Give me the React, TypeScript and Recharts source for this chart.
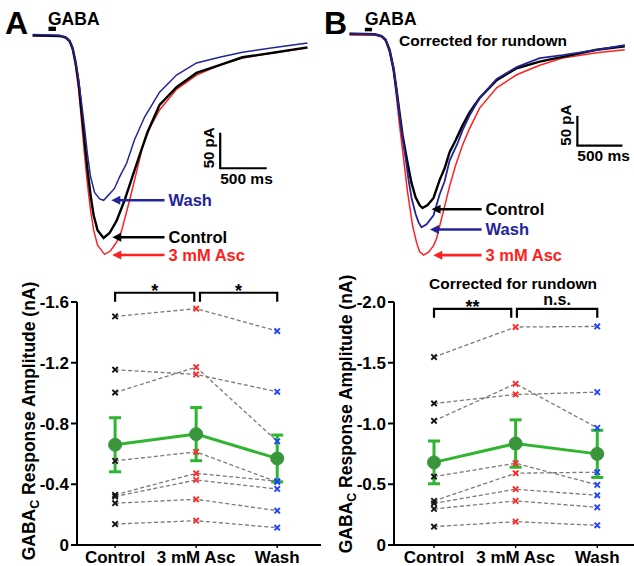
import React from 'react';
import {
  ComposedChart,
  ErrorBar,
  Line,
  LineChart,
  ReferenceArea,
  ReferenceLine,
  XAxis,
  YAxis,
} from 'recharts';

const FONT = '"Liberation Sans", Arial, Helvetica, sans-serif';
const RED = '#ff2020';
const NAVY = '#24249a';
const GREEN = '#2fb52f';
const GREEN_DOT = '#3b963b';
const CROSS_COLORS = ['#151515', '#ff2a2a', '#2244ff'];

const CONDITIONS = ['Control', '3 mM Asc', 'Wash'];

// GABA pulse marker (ms) and its height band (pA)
const GABA_PULSE = [170, 250];
const GABA_MARK = [6, 12];
const SCALE_MS = 500;
const SCALE_PA = 50;

// example currents, [time ms, current pA]
const traceA_control = [[0, 0], [290, -1], [354, -3], [397, -8], [429, -18], [461, -38], [494, -67], [526, -108], [558, -150], [590, -190], [622, -225], [655, -253], [697, -274], [762, -285], [826, -278], [901, -261], [987, -232], [1073, -198], [1148, -169], [1234, -136], [1363, -98], [1545, -73], [1760, -53], [2007, -42], [2253, -31], [2618, -24], [2951, -17]];
const traceA_asc = [[0, -1], [290, -1], [354, -4], [397, -10], [429, -21], [461, -44], [494, -77], [526, -122], [558, -169], [590, -211], [622, -246], [655, -274], [697, -295], [773, -308], [837, -303], [901, -291], [955, -275], [1041, -232], [1116, -192], [1180, -157], [1255, -131], [1363, -105], [1545, -76], [1760, -56], [2007, -42], [2253, -32], [2618, -24], [2951, -18]];
const traceA_wash = [[0, 1], [290, 0], [354, -3], [397, -8], [429, -18], [461, -37], [494, -63], [526, -96], [558, -131], [590, -169], [622, -199], [665, -221], [719, -230], [762, -232], [826, -223], [880, -215], [934, -199], [1009, -180], [1094, -147], [1202, -115], [1363, -80], [1545, -56], [1760, -39], [2007, -31], [2253, -24], [2618, -17], [2951, -11]];

const traceB_control = [[0, 2], [278, 1], [355, -2], [400, -8], [444, -25], [488, -56], [522, -93], [555, -131], [588, -168], [622, -197], [655, -224], [688, -249], [733, -273], [777, -286], [810, -291], [866, -286], [932, -274], [999, -244], [1055, -224], [1110, -197], [1177, -177], [1254, -152], [1332, -130], [1443, -106], [1632, -76], [1854, -56], [2109, -45], [2364, -37], [2742, -25], [3053, -19]];
const traceB_asc = [[0, 0], [278, 0], [355, -3], [400, -10], [444, -29], [488, -62], [522, -106], [555, -152], [599, -207], [644, -264], [699, -320], [744, -349], [777, -364], [821, -370], [877, -365], [932, -354], [966, -342], [1010, -315], [1055, -288], [1110, -254], [1177, -219], [1254, -185], [1332, -157], [1443, -123], [1632, -89], [1854, -67], [2109, -51], [2364, -39], [2742, -30], [3053, -25]];
const traceB_wash = [[0, 2], [278, 1], [355, -2], [400, -8], [444, -25], [488, -56], [522, -93], [555, -135], [588, -173], [622, -207], [655, -244], [688, -274], [733, -301], [766, -315], [799, -323], [855, -318], [932, -303], [999, -268], [1055, -246], [1110, -211], [1199, -182], [1254, -160], [1332, -135], [1443, -106], [1632, -74], [1854, -54], [2109, -39], [2364, -34], [2742, -25], [3053, -17]];

// arrow annotations: tip / tail time (ms), level (pA)
const arrowsA = [
  { label: 'Wash', color: NAVY, tip: 845, tail: 1416, pA: -232 },
  { label: 'Control', color: '#000', tip: 855, tail: 1416, pA: -284 },
  { label: '3 mM Asc', color: RED, tip: 855, tail: 1416, pA: -309 },
];
const arrowsB = [
  { label: 'Control', color: '#000', tip: 910, tail: 1465, pA: -293 },
  { label: 'Wash', color: NAVY, tip: 892, tail: 1465, pA: -327 },
  { label: '3 mM Asc', color: RED, tip: 929, tail: 1465, pA: -370 },
];
const scaleBarA = { t0: 2014, p0: -187 };
const scaleBarB = { t0: 2527, p0: -186 };

// response amplitudes (nA), one value per cell
const ampA_control = [-1.505, -1.154, -1.004, -0.554, -0.33, -0.319, -0.275, -0.138];
const ampA_asc = [-1.556, -1.123, -1.171, -0.613, -0.472, -0.428, -0.301, -0.16];
const ampA_wash = [-1.409, -1.009, -0.683, -0.415, -0.42, -0.369, -0.226, -0.114];
const meanA = [-0.66, -0.73, -0.57];
const semA = [0.178, 0.175, 0.154];
const ticksA = [-1.6, -1.2, -0.8, -0.4, 0];

const ampB_control = [-1.547, -1.165, -1.022, -0.563, -0.363, -0.343, -0.297, -0.151];
const ampB_asc = [-1.794, -1.239, -1.327, -0.673, -0.591, -0.459, -0.363, -0.192];
const ampB_wash = [-1.799, -1.258, -0.964, -0.495, -0.599, -0.409, -0.31, -0.162];
const meanB = [-0.68, -0.835, -0.75];
const semB = [0.176, 0.195, 0.194];
const ticksB = [-2.0, -1.5, -1.0, -0.5, 0];

const bracketsA = [
  { from: 0, to: 0.977, y: -1.661, label: '*' },
  { from: 1.047, to: 2, y: -1.661, label: '*' },
];
const bracketsB = [
  { from: 0, to: 0.946, y: -1.944, label: '**' },
  { from: 1.016, to: 2, y: -1.944, label: 'n.s.' },
];

const toRows = (pts: number[][]) => pts.map(([t, i]) => ({ t, i }));

const arrowShape = (label: string, color: string) => (p: any) => {
  const { x1, y1, x2 } = p;
  return (
    <g>
      <line x1={x1 + 7} y1={y1} x2={x2} y2={y1} stroke={color} strokeWidth={2.6} />
      <polygon points={`${x1},${y1} ${x1 + 9},${y1 - 4.5} ${x1 + 9},${y1 + 4.5}`} fill={color} />
      <text x={x2 + 4} y={y1} dy="0.36em" fill={color} fontSize={16.5} fontWeight={700} fontFamily={FONT}>
        {label}
      </text>
    </g>
  );
};

const hBarShape = (p: any) => (
  <g>
    <line x1={p.x1 - 1} y1={p.y1} x2={p.x2} y2={p.y2} stroke="#000" strokeWidth={2.2} />
    <text x={p.x1} y={p.y1 + 15.5} fontSize={15.5} fontWeight={700} fontFamily={FONT} fill="#000">
      {`${SCALE_MS} ms`}
    </text>
  </g>
);

const vBarShape = (p: any) => (
  <g>
    <line x1={p.x1} y1={p.y1} x2={p.x2} y2={p.y2} stroke="#000" strokeWidth={2.2} />
    <text
      x={p.x1 - 6.5}
      y={p.y1}
      transform={`rotate(-90, ${p.x1 - 6.5}, ${p.y1})`}
      fontSize={15}
      fontWeight={700}
      fontFamily={FONT}
      fill="#000"
    >
      {`${SCALE_PA} pA`}
    </text>
  </g>
);

const bracketShape = (label: string) => (p: any) => {
  const { x1, y1, x2 } = p;
  const stars = label.includes('*');
  return (
    <g>
      <path d={`M${x1},${y1 + 9}V${y1}H${x2}V${y1 + 9}`} fill="none" stroke="#000" strokeWidth={2.2} />
      <text
        x={(x1 + x2) / 2}
        y={stars ? y1 + 4 : y1 - 3.5}
        textAnchor="middle"
        fontSize={stars ? 18 : 16}
        fontWeight={700}
        fontFamily={FONT}
        fill="#000"
      >
        {label}
      </text>
    </g>
  );
};

const crossDot = (id: string) => (p: any) => {
  const { cx, cy, index } = p;
  const s = 2.7;
  if (cx == null || cy == null) return <g key={`${id}-${index}`} />;
  return (
    <path
      key={`${id}-${index}`}
      d={`M${cx - s},${cy - s}L${cx + s},${cy + s}M${cx + s},${cy - s}L${cx - s},${cy + s}`}
      stroke={CROSS_COLORS[index]}
      strokeWidth={1.9}
      fill="none"
    />
  );
};

interface Trace {
  name: string;
  pts: number[][];
  color: string;
  w: number;
}

function TraceChart({ width, height, xDomain, yDomain, traces, arrows, bar }: any) {
  return (
    <LineChart width={width} height={height} margin={{ top: 0, right: 0, bottom: 0, left: 0 }}>
      <XAxis type="number" dataKey="t" domain={xDomain} allowDataOverflow hide />
      <YAxis type="number" domain={yDomain} allowDataOverflow hide />
      <ReferenceArea
        x1={GABA_PULSE[0]}
        x2={GABA_PULSE[1]}
        y1={GABA_MARK[0]}
        y2={GABA_MARK[1]}
        fill="#000"
        fillOpacity={1}
        stroke="none"
        ifOverflow="visible"
      />
      {traces.map((tr: Trace) => (
        <Line
          key={tr.name}
          data={toRows(tr.pts)}
          dataKey="i"
          type="linear"
          stroke={tr.color}
          strokeWidth={tr.w}
          dot={false}
          activeDot={false}
          isAnimationActive={false}
        />
      ))}
      {arrows.map((a: any) => (
        <ReferenceLine
          key={a.label}
          segment={[{ x: a.tip, y: a.pA }, { x: a.tail, y: a.pA }]}
          ifOverflow="visible"
          shape={arrowShape(a.label, a.color)}
        />
      ))}
      <ReferenceLine
        segment={[{ x: bar.t0, y: bar.p0 }, { x: bar.t0 + SCALE_MS, y: bar.p0 }]}
        ifOverflow="visible"
        shape={hBarShape}
      />
      <ReferenceLine
        segment={[{ x: bar.t0, y: bar.p0 }, { x: bar.t0, y: bar.p0 + SCALE_PA }]}
        ifOverflow="visible"
        shape={vBarShape}
      />
    </LineChart>
  );
}

const fmtTick = (v: number) => (v === 0 ? '0' : v.toFixed(1));

function AmpChart({ width, cond, mean, sem, yDomain, yTicks, xDomain, brackets }: any) {
  const rows = CONDITIONS.map((_, i) => {
    const r: any = { x: i, mean: mean[i], sem: sem[i] };
    cond[i].forEach((v: number, k: number) => {
      r['cell' + k] = v;
    });
    return r;
  });
  const keys = cond[0].map((_: number, k: number) => 'cell' + k);
  const tickStyle = { fill: '#000', fontSize: 17, fontWeight: 700, fontFamily: FONT };

  return (
    <ComposedChart width={width} height={296} data={rows} margin={{ top: 32, right: 0, bottom: 0, left: 0 }}>
      <XAxis
        type="number"
        dataKey="x"
        domain={xDomain}
        ticks={[0, 1, 2]}
        interval={0}
        tickFormatter={(v) => CONDITIONS[v]}
        height={21}
        tickSize={3}
        tickMargin={3}
        axisLine={{ stroke: '#000', strokeWidth: 2 }}
        tickLine={{ stroke: '#000', strokeWidth: 1.5 }}
        tick={tickStyle}
      />
      <YAxis
        type="number"
        domain={yDomain}
        reversed
        ticks={yTicks}
        interval={0}
        width={77}
        tickSize={6}
        tickMargin={2}
        tickFormatter={fmtTick}
        axisLine={{ stroke: '#000', strokeWidth: 2 }}
        tickLine={{ stroke: '#000', strokeWidth: 2 }}
        tick={tickStyle}
      />
      {keys.map((k: string) => (
        <Line
          key={k}
          dataKey={k}
          type="linear"
          stroke="#7a7a7a"
          strokeWidth={1.3}
          strokeDasharray="4 2.5"
          dot={false}
          activeDot={false}
          isAnimationActive={false}
        />
      ))}
      <Line
        dataKey="mean"
        type="linear"
        stroke={GREEN}
        strokeWidth={3}
        dot={{ r: 6.5, fill: GREEN_DOT, stroke: GREEN_DOT, strokeWidth: 1 }}
        activeDot={false}
        isAnimationActive={false}
      >
        <ErrorBar dataKey="sem" width={6} strokeWidth={3} stroke={GREEN} direction="y" isAnimationActive={false} />
      </Line>
      {keys.map((k: string) => (
        <Line
          key={'m' + k}
          dataKey={k}
          stroke="none"
          dot={crossDot(k)}
          activeDot={false}
          isAnimationActive={false}
        />
      ))}
      {brackets.map((b: any, i: number) => (
        <ReferenceLine
          key={i}
          segment={[{ x: b.from, y: b.y }, { x: b.to, y: b.y }]}
          ifOverflow="visible"
          shape={bracketShape(b.label)}
        />
      ))}
    </ComposedChart>
  );
}

function YLabel({ x, y }: { x: number; y: number }) {
  return (
    <text
      x={x}
      y={y}
      transform={`rotate(-90, ${x}, ${y})`}
      textAnchor="middle"
      fontSize={17.5}
      fontWeight={700}
      fontFamily={FONT}
      fill="#000"
    >
      GABA
      <tspan dy={4} fontSize={12.5}>C</tspan>
      <tspan dy={-4}> Response Amplitude (nA)</tspan>
    </text>
  );
}

export default function App() {
  const tracesA: Trace[] = [
    { name: 'asc', pts: traceA_asc, color: RED, w: 1.5 },
    { name: 'control', pts: traceA_control, color: '#000', w: 2.4 },
    { name: 'wash', pts: traceA_wash, color: NAVY, w: 1.5 },
  ];
  const tracesB: Trace[] = [
    { name: 'asc', pts: traceB_asc, color: RED, w: 1.5 },
    { name: 'control', pts: traceB_control, color: '#000', w: 2.4 },
    { name: 'wash', pts: traceB_wash, color: NAVY, w: 1.8 },
  ];

  return (
    <div style={{ position: 'relative', width: 634, height: 566, background: '#fff', overflow: 'hidden' }}>
      <style>{'body{margin:0}'}</style>

      <div style={{ position: 'absolute', left: 28, top: 21 }}>
        <TraceChart
          width={284}
          height={249}
          xDomain={[-50, 3000]}
          yDomain={[-330, 20]}
          traces={tracesA}
          arrows={arrowsA}
          bar={scaleBarA}
        />
      </div>
      <div style={{ position: 'absolute', left: 345, top: 23 }}>
        <TraceChart
          width={289}
          height={250}
          xDomain={[-50, 3155]}
          yDomain={[-400, 20]}
          traces={tracesB}
          arrows={arrowsB}
          bar={scaleBarB}
        />
      </div>

      <div style={{ position: 'absolute', left: 0, top: 270 }}>
        <AmpChart
          width={321}
          cond={[ampA_control, ampA_asc, ampA_wash]}
          mean={meanA}
          sem={semA}
          yDomain={[-1.6, 0]}
          yTicks={ticksA}
          xDomain={[-0.47, 2.54]}
          brackets={bracketsA}
        />
      </div>
      <div style={{ position: 'absolute', left: 317, top: 270 }}>
        <AmpChart
          width={317}
          cond={[ampB_control, ampB_asc, ampB_wash]}
          mean={meanB}
          sem={semB}
          yDomain={[-2.0, 0]}
          yTicks={ticksB}
          xDomain={[-0.49, 2.45]}
          brackets={bracketsB}
        />
      </div>

      <svg
        width={634}
        height={566}
        style={{ position: 'absolute', left: 0, top: 0, pointerEvents: 'none' }}
        fontFamily={FONT}
      >
        <text x={5} y={33.5} fontSize={32} fontWeight={700} fill="#000">A</text>
        <text x={324} y={33.5} fontSize={32} fontWeight={700} fill="#000">B</text>
        <text x={48} y={24.5} fontSize={17.5} fontWeight={700} fill="#000">GABA</text>
        <text x={365} y={24.5} fontSize={17.5} fontWeight={700} fill="#000">GABA</text>
        <text x={399} y={45.5} fontSize={15.5} fontWeight={700} fill="#000">Corrected for rundown</text>
        <text x={513} y={289} textAnchor="middle" fontSize={15.5} fontWeight={700} fill="#000">
          Corrected for rundown
        </text>
        <YLabel x={35} y={421} />
        <YLabel x={352} y={414} />
      </svg>
    </div>
  );
}
